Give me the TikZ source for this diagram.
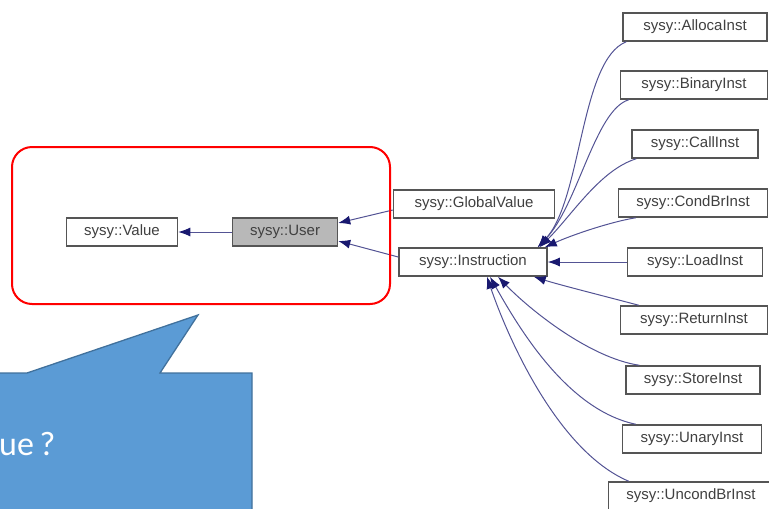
\documentclass[tikz,border=0pt]{standalone}
\usepackage{fontspec}
\setmainfont{Liberation Sans}
\newfontfamily\calloutfont{Carlito}
\usepackage{tikz}
\usetikzlibrary{arrows.meta}
\definecolor{edgeblue}{HTML}{191970}
\definecolor{boxgray}{HTML}{555555}
\definecolor{calloutfill}{HTML}{5B9BD5}
\definecolor{calloutdraw}{HTML}{41719C}

\begin{document}
\begin{tikzpicture}[x=1pt, y=-1pt,
  cls/.style    ={draw=boxgray, line width=1.5pt, fill=white,
                  minimum height=28pt, inner sep=0pt,
                  font=\fontsize{15}{17}\selectfont, text=black!75},
  edge/.style   ={-{Latex[length=12pt,width=9pt,color=edgeblue]},
                  edgeblue!75, line width=1pt},
  note/.style   ={draw=red, line width=2pt, rounded corners=20pt},
  callout/.style={fill=calloutfill, draw=calloutdraw, line width=1.3pt, line join=miter}
]
  \useasboundingbox (0,0) rectangle (769,509);

  \node[cls, minimum width=111pt]               (value)  at (122,232) {sysy::Value};
  \node[cls, minimum width=105pt, fill=black!28] (user)   at (285,232) {sysy::User};
  \node[cls, minimum width=161pt]               (global) at (474,204) {sysy::GlobalValue};
  \node[cls, minimum width=148pt]               (instr)  at (473,262) {sysy::Instruction};

  \node[cls, minimum width=144pt] (alloca) at (695, 27) {sysy::AllocaInst};
  \node[cls, minimum width=147pt] (binary) at (694, 85) {sysy::BinaryInst};
  \node[cls, minimum width=126pt] (call)   at (695,144) {sysy::CallInst};
  \node[cls, minimum width=149pt] (condbr) at (693,203) {sysy::CondBrInst};
  \node[cls, minimum width=135pt] (load)   at (695,262) {sysy::LoadInst};
  \node[cls, minimum width=147pt] (ret)    at (694,320) {sysy::ReturnInst};
  \node[cls, minimum width=134pt] (store)  at (693,380) {sysy::StoreInst};
  \node[cls, minimum width=139pt] (unary)  at (692,439) {sysy::UnaryInst};
  \node[cls, minimum width=165pt] (uncond) at (691,496) {sysy::UncondBrInst};

  \draw[edge] (user) -- (value);
  \draw[edge] ([yshift=-6pt]global.west) -- ([yshift=9pt]user.east);
  \draw[edge] ([yshift=5pt]instr.west)   -- ([yshift=-9pt]user.east);

  \draw[edge] ([xshift=4pt]alloca.south west)
              .. controls (580,60) and (582,200) .. ([xshift=-10pt]instr.north east);
  \draw[edge] ([xshift=9pt]binary.south west)
              .. controls (595,110) and (578,205) .. ([xshift=-10pt]instr.north east);
  \draw[edge] ([xshift=5pt]call.south west)
              .. controls (600,170) and (572,215) .. ([xshift=-8pt]instr.north east);
  \draw[edge] ([xshift=18pt]condbr.south west)
              .. controls (610,222) and (572,235) .. ([xshift=-3pt]instr.north east);
  \draw[edge] (load) -- (instr);
  \draw[edge] ([xshift=19pt]ret.north west)
              .. controls (600,295) and (560,285) .. ([xshift=-14pt]instr.south east);
  \draw[edge] ([xshift=14pt]store.north west)
              .. controls (590,358) and (530,310) .. ([xshift=25pt]instr.south);
  \draw[edge] ([xshift=14pt]unary.north west)
              .. controls (568,410) and (520,330) .. ([xshift=17pt]instr.south);
  \draw[edge] ([xshift=21pt]uncond.north west)
              .. controls (555,450) and (505,330) .. ([xshift=14pt]instr.south);

  \draw[note] (12,147) rectangle (390,304);

  \draw[callout] (-10,373) -- (27,373) -- (198,315) -- (160,373) -- (252,373)
                 -- (252,520) -- (-10,520) -- cycle;
  \node[anchor=base west, inner sep=0pt, text=white,
        font=\calloutfont\fontsize{34}{40}\selectfont] (ask) at (-1,455) {ue\,?};
\end{tikzpicture}
\end{document}
